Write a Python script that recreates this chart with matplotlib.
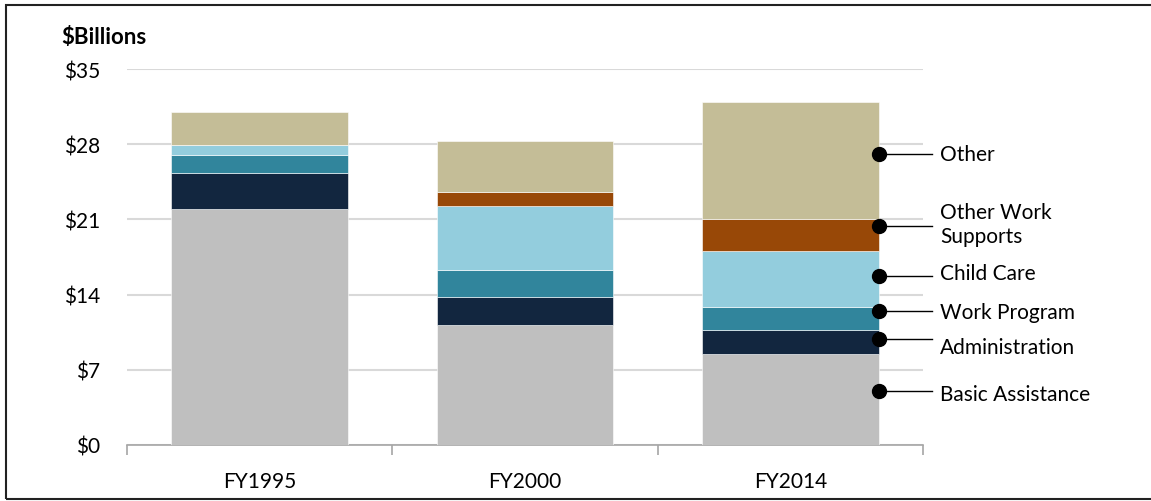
import matplotlib.pyplot as plt
from matplotlib.patches import Rectangle
import numpy as np

plt.rcParams['font.family'] = ['Lato', 'DejaVu Sans']

years = ["FY1995", "FY2000", "FY2014"]
categories = ["Basic Assistance", "Administration", "Work Program",
              "Child Care", "Other Work Supports", "Other"]
basic_assistance = [22.0, 11.14, 8.44]
administration = [3.35, 2.61, 2.24]
work_program = [1.6, 2.51, 2.17]
child_care = [0.93, 5.96, 5.18]
other_work_supports = [0.0, 1.34, 3.01]
other = [3.15, 4.77, 10.9]

label_text = ["Basic Assistance", "Administration", "Work Program",
              "Child Care", "Other Work\nSupports", "Other"]
colors = ["#bfbfbf", "#12263f", "#31859c", "#93cddd", "#984807", "#c4bd97"]

series = [basic_assistance, administration, work_program,
          child_care, other_work_supports, other]

W, H = 1151, 502
fig = plt.figure(figsize=(W / 100, H / 100), dpi=100)
ax = fig.add_axes([127 / W, (H - 446) / H, (923 - 127) / W, (446 - 70) / H])

x = np.arange(len(years))
bottom = np.zeros(len(years))
for vals, c in zip(series, colors):
    ax.bar(x, vals, width=0.667, bottom=bottom, color=c,
           edgecolor="white", linewidth=0.4, zorder=3)
    bottom += np.array(vals)

ax.set_xlim(-0.5, 2.5)
ax.set_ylim(0, 35)
ax.set_yticks(np.arange(0, 36, 7))
ax.set_yticklabels(["$%d" % v for v in range(0, 36, 7)], fontsize=15)
ax.yaxis.grid(True, color="#d9d9d9", linewidth=1.5, zorder=0)
ax.tick_params(axis="y", length=0, pad=19)

ax.set_xticks(x)
ax.set_xticklabels(years, fontsize=15)
ax.tick_params(axis="x", length=0, pad=19)
ax.set_xticks([-0.5, 0.5, 1.5, 2.5], minor=True)
ax.tick_params(axis="x", which="minor", length=7, width=1.2, color="#a6a6a6")

for s in ["top", "right", "left"]:
    ax.spines[s].set_visible(False)
ax.spines["bottom"].set_color("#a6a6a6")
ax.spines["bottom"].set_linewidth(1.2)

# callouts beside the FY2014 bar: dot inside each segment, label to the right
last = [s[-1] for s in series]
tops = np.cumsum(last)
bases = tops - np.array(last)
dot_fracs = [0.6, 0.64, 0.84, 0.55, 0.79, 0.556]
text_shift = [-0.35, -0.75, -0.12, 0.3, 0.17, 0.0]
dot_x = 2 + 0.667 / 2
for lab, b, v, f, dy in zip(label_text, bases, last, dot_fracs, text_shift):
    y = b + v * f
    ax.plot([dot_x, dot_x + 0.2], [y, y], color="black", linewidth=1,
            clip_on=False, zorder=5)
    ax.plot([dot_x], [y], "o", color="black", markersize=10,
            clip_on=False, zorder=6)
    ax.text(dot_x + 0.23, y + dy, lab, fontsize=15, va="center", ha="left",
            linespacing=1.25)

fig.text(61 / W, 1 - 38 / H, "$Billions", fontsize=16, fontweight="bold",
         va="center", ha="left")

# outer frame (runs off the right edge)
fig.patches.append(Rectangle((6 / W, 2 / H), 1.2, 494 / H,
                             transform=fig.transFigure, fill=False,
                             edgecolor="#222222", linewidth=1.5))

fig.savefig("out.png", dpi=100)
